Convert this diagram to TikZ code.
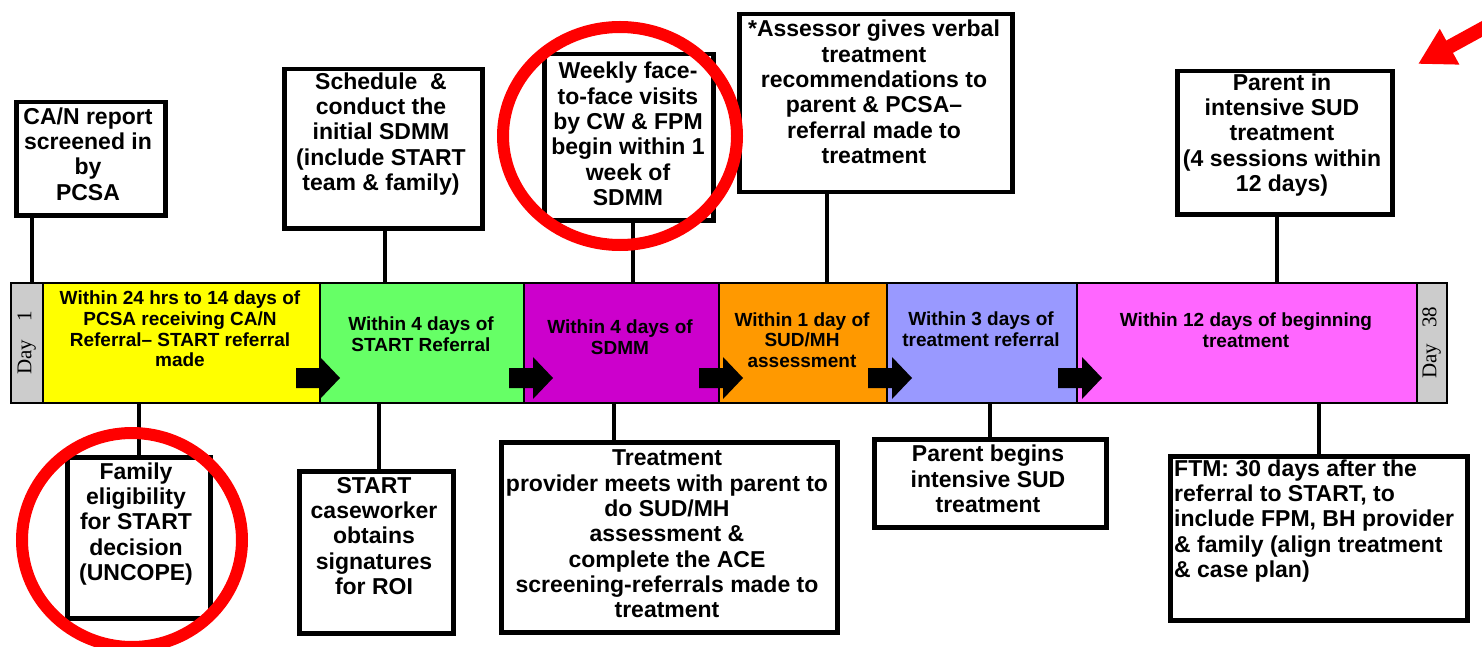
\documentclass[tikz,border=0pt]{standalone}
\usepackage{fontspec}
\setmainfont{Liberation Sans}
\newfontfamily\dayfont{Liberation Serif}
\usetikzlibrary{arrows.meta}

\definecolor{dayfill}{HTML}{CCCCCC}
\definecolor{phaseA}{HTML}{FFFF00}
\definecolor{phaseB}{HTML}{66FF66}
\definecolor{phaseC}{HTML}{CC00CC}
\definecolor{phaseD}{HTML}{FF9900}
\definecolor{phaseE}{HTML}{9999FF}
\definecolor{phaseF}{HTML}{FF66FF}

\newcommand{\boxfont}{\fontsize{23}{25.3}\selectfont\bfseries}
\newcommand{\segfont}{\fontsize{19}{20.6}\selectfont\bfseries}

\tikzset{
  stepbox/.style={draw, line width=4.5pt, inner sep=0pt, anchor=north west},
  boxtext/.style={font=\boxfont, align=center, inner sep=0pt},
  seg/.style={draw, line width=1.5pt, minimum height=120pt, inner sep=0pt, anchor=north west},
  segtext/.style={font=\segfont, align=center, inner sep=0pt},
  daytext/.style={font=\dayfont\fontsize{21}{21}\selectfont, rotate=90, inner sep=0pt},
  link/.style={line width=4pt},
  ring/.style={draw=red, line width=12pt},
}

\begin{document}
\begin{tikzpicture}[x=1pt, y=-1pt]
\useasboundingbox (0,0) rectangle (1482,647);

% timeline bar
\node[seg, fill=dayfill, minimum width=32pt] (dayone) at (10,282) {};
\node[seg, fill=phaseA, minimum width=277pt] (segA) at (42,282) {};
\node[seg, fill=phaseB, minimum width=204pt] (segB) at (319,282) {};
\node[seg, fill=phaseC, minimum width=195pt] (segC) at (523,282) {};
\node[seg, fill=phaseD, minimum width=168pt] (segD) at (718,282) {};
\node[seg, fill=phaseE, minimum width=190pt] (segE) at (886,282) {};
\node[seg, fill=phaseF, minimum width=340pt] (segF) at (1076,282) {};
\node[seg, fill=dayfill, minimum width=30pt] (daylast) at (1416,282) {};

\node[daytext] (dayonelab) at (dayone.center) {Day\hspace{19pt}1};
\node[daytext] (daylastlab) at (daylast.center) {Day\hspace{16pt}38};

\node[segtext] (segAtxt) at (180,329) {Within 24 hrs to 14 days of\\PCSA receiving CA/N\\Referral– START referral\\made};
\node[segtext] (segBtxt) at (421,334) {Within 4 days of\\START Referral};
\node[segtext] (segCtxt) at (620,337) {Within 4 days of\\SDMM};
\node[segtext] (segDtxt) at (802,340) {Within 1 day of\\SUD/MH\\assessment};
\node[segtext] (segEtxt) at (981,329) {Within 3 days of\\treatment referral};
\node[segtext] (segFtxt) at (1246,330) {Within 12 days of beginning\\treatment};

% block arrows between phases
\foreach \x in {296,509,699,868,1058}
  \fill (\x,368) -- ++(24,0) -- ++(0,-11) -- ++(20,21) -- ++(-20,21) -- ++(0,-11) -- ++(-24,0) -- cycle;

% boxes above the bar
\node[stepbox, minimum width=149pt, minimum height=113pt] (screen) at (14,100) {};
\node[boxtext] (screentxt) at (88,154) {CA/N report\\screened in\\by\\PCSA};

\node[stepbox, minimum width=198pt, minimum height=159pt] (sdmm) at (282,67) {};
\node[boxtext] (sdmmtxt) at (381,134) {Schedule~ \&\\conduct the\\initial SDMM\\(include START\\team \& family)};

\node[stepbox, minimum width=169pt, minimum height=166pt] (visits) at (542,52) {};
\node[boxtext] (visitstxt) at (628,134) {Weekly face-\\to-face visits\\by CW \& FPM\\begin within 1\\week of\\SDMM};

\node[stepbox, minimum width=273pt, minimum height=178pt] (assess) at (737,12) {};
\node[boxtext] (assesstxt) at (874,92) {*Assessor gives verbal\\treatment\\recommendations to\\parent \& PCSA–\\referral made to\\treatment};

\node[stepbox, minimum width=215pt, minimum height=143pt] (intense) at (1175,69) {};
\node[boxtext] (intensetxt) at (1282,135) {Parent in\\intensive SUD\\treatment\\(4 sessions within\\12 days)};

% boxes below the bar
\node[stepbox, minimum width=143pt, minimum height=161pt] (elig) at (65,455) {};
\node[boxtext] (eligtxt) at (136,524) {Family\\eligibility\\for START\\decision\\(UNCOPE)};

\node[stepbox, minimum width=154pt, minimum height=162pt] (roi) at (297,469) {};
\node[boxtext] (roitxt) at (374,536) {START\\caseworker\\obtains\\signatures\\for ROI};

\node[stepbox, minimum width=336pt, minimum height=190pt] (provider) at (499,440) {};
\node[boxtext] (providertxt) at (667,534) {Treatment\\provider meets with parent to\\do SUD/MH\\assessment \&\\complete the ACE\\screening-referrals made to\\treatment};

\node[stepbox, minimum width=232pt, minimum height=88pt] (begins) at (872,437) {};
\node[boxtext] (beginstxt) at (988,479) {Parent begins\\intensive SUD\\treatment};

\node[stepbox, minimum width=297pt, minimum height=164pt] (ftm) at (1168,454) {};
\node[boxtext, align=left, anchor=west] (ftmtxt) at (1174,521) {FTM: 30 days after the\\referral to START, to\\include FPM, BH provider\\\& family (align treatment\\\& case plan)};

% connectors
\draw[link] ([xshift=18pt]screen.south west) -- ([xshift=18pt]screen.south west |- dayone.north);
\draw[link] ([xshift=2pt]sdmm.south) -- ([xshift=2pt]sdmm.south |- segB.north);
\draw[link] ([xshift=4pt]visits.south) -- ([xshift=4pt]visits.south |- segC.north);
\draw[link] ([xshift=-49pt]assess.south) -- ([xshift=-49pt]assess.south |- segD.north);
\draw[link] ([xshift=-8pt]intense.south) -- ([xshift=-8pt]intense.south |- segF.north);
\draw[link] (elig.north) -- (elig.north |- segA.south);
\draw[link] ([xshift=3pt]roi.north) -- ([xshift=3pt]roi.north |- segB.south);
\draw[link] ([xshift=-55pt]provider.north) -- ([xshift=-55pt]provider.north |- segC.south);
\draw[link] (begins.north) -- (begins.north |- segE.south);
\draw[link] (ftm.north) -- (ftm.north |- segF.south);

% red highlights
\draw[ring] (620,136) ellipse (117 and 109);
\draw[ring] (132,540) ellipse (110 and 107);
\coordinate (pointer) at (1502,18);
\draw[red, line width=14pt, -{Triangle[length=36pt, width=38pt]}] (pointer) -- (1418,64);
\end{tikzpicture}
\end{document}
